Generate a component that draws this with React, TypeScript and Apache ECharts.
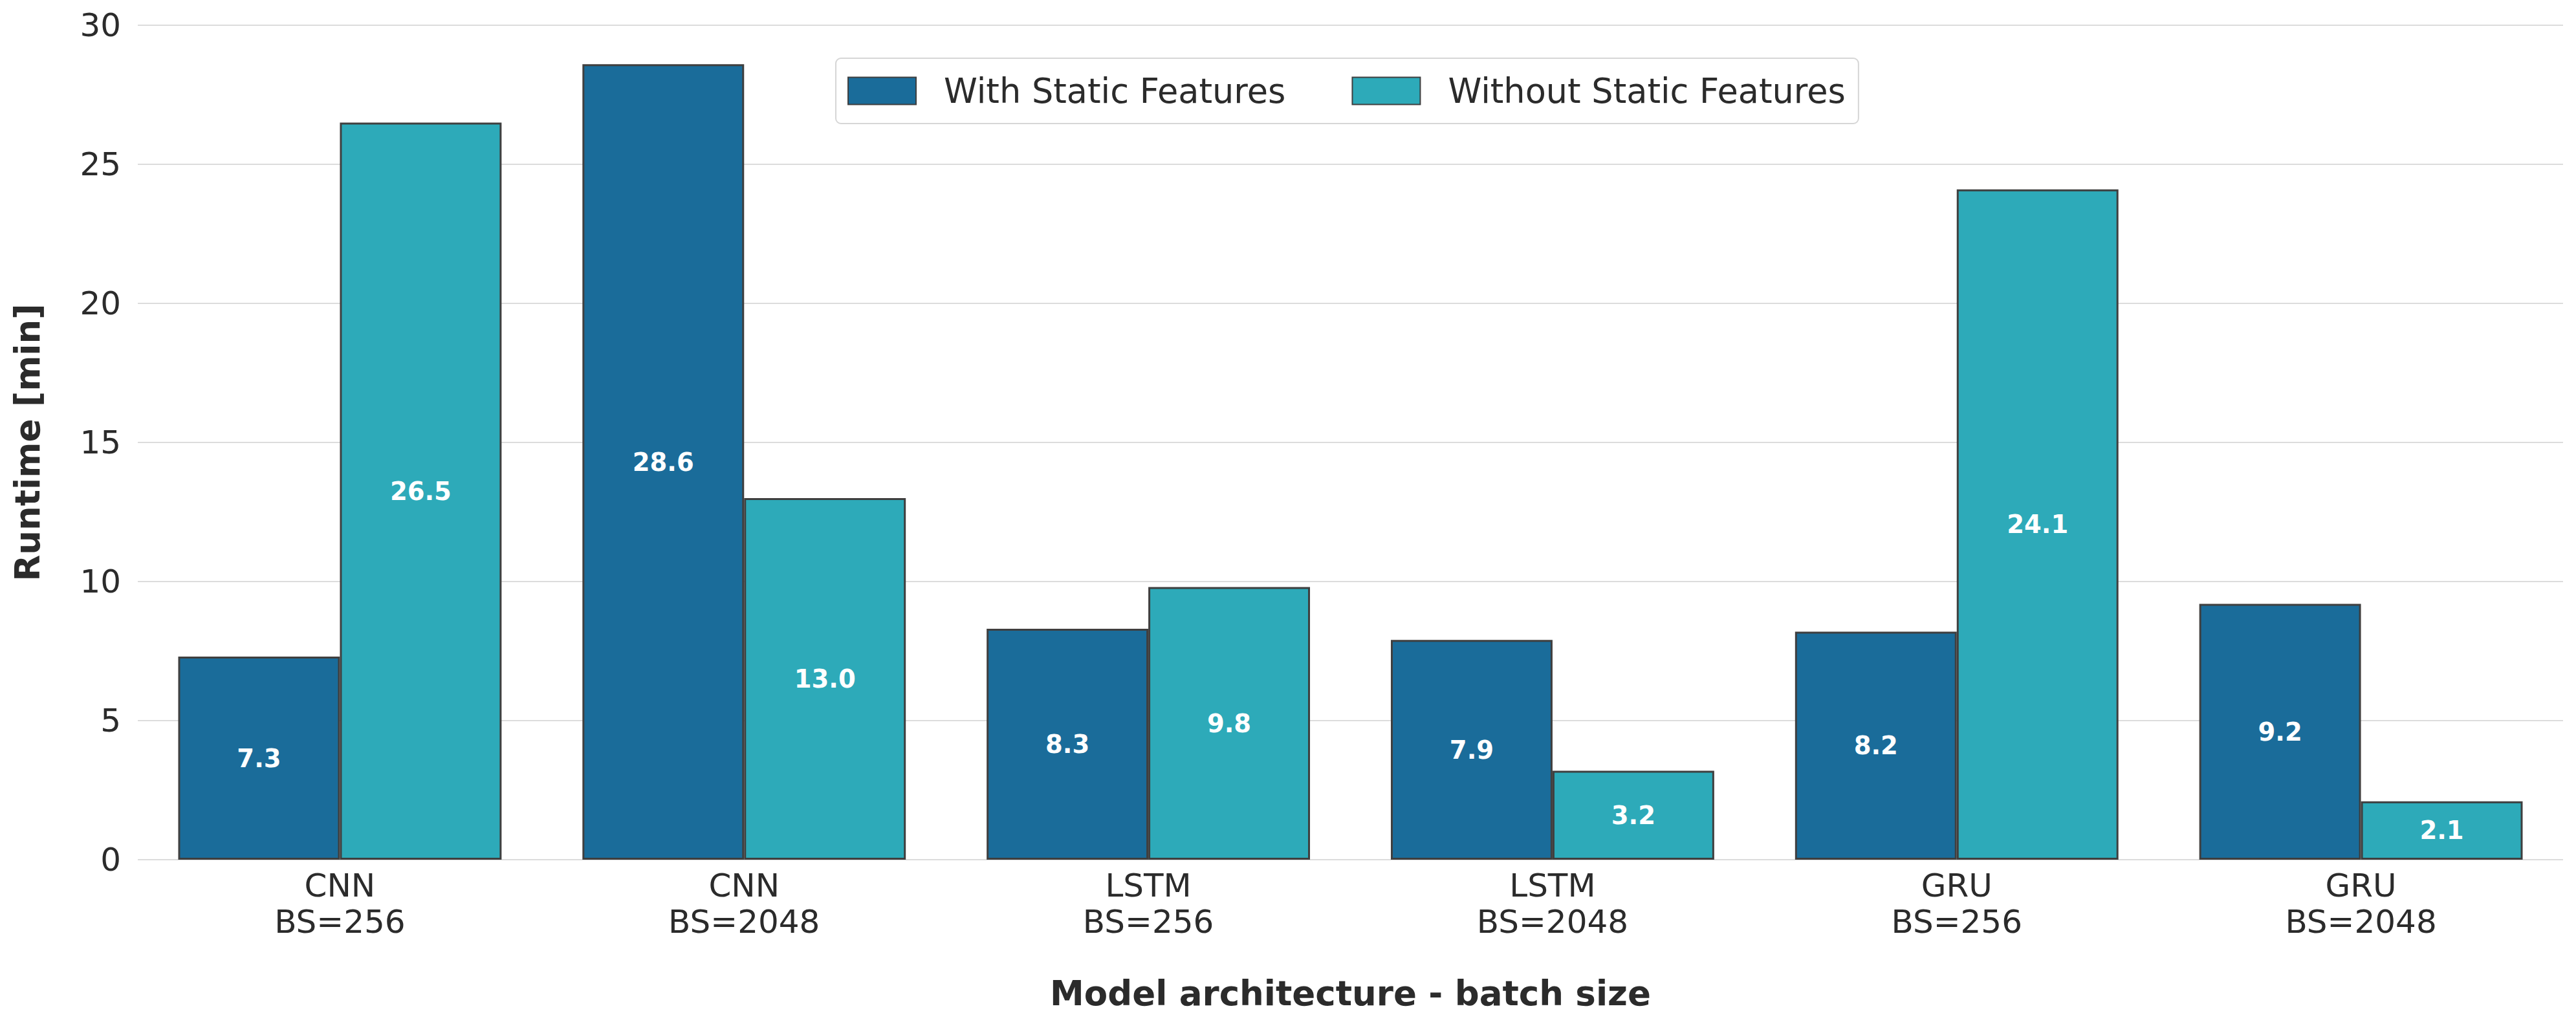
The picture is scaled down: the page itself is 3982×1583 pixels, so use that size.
import React, { useEffect, useRef } from "react";
import * as echarts from "echarts";

const categories = [
  "CNN\nBS=256",
  "CNN\nBS=2048",
  "LSTM\nBS=256",
  "LSTM\nBS=2048",
  "GRU\nBS=256",
  "GRU\nBS=2048",
];
const withStatic = [7.3, 28.6, 8.3, 7.9, 8.2, 9.2];
const withoutStatic = [26.5, 13.0, 9.8, 3.2, 24.1, 2.1];
const seriesNames = ["With Static Features", "Without Static Features"];
const yTicks = { min: 0, max: 30, interval: 5 };

const FONT = "DejaVu Sans";
const TEXT = "#2b2b2b";

export default function App() {
  const ref = useRef<HTMLDivElement>(null);
  useEffect(() => {
    if (!ref.current) return;
    const chart = echarts.init(ref.current, undefined, { renderer: "svg" });
    const label = {
      show: true,
      position: "inside",
      color: "#ffffff",
      fontFamily: FONT,
      fontWeight: "bold",
      fontSize: 38.5,
      formatter: (p: any) => Number(p.value).toFixed(1),
    };
    chart.setOption({
      animation: false,
      textStyle: { fontFamily: FONT },
      grid: { left: 213, right: 20, top: 39, bottom: 254, containLabel: false },
      legend: {
        left: 1292,
        top: 90,
        orient: "horizontal",
        itemWidth: 105,
        itemHeight: 42,
        itemGap: 102,
        padding: [24, 20, 24, 18],
        borderColor: "#d6d6d6",
        borderWidth: 2,
        borderRadius: 8,
        backgroundColor: "#ffffff",
        icon: "rect",
        textStyle: {
          fontFamily: FONT,
          fontSize: 52.5,
          color: TEXT,
          padding: [0, 0, 0, 38],
          lineHeight: 44,
        },
        data: seriesNames,
      },
      xAxis: {
        type: "category",
        data: categories,
        axisLine: { show: false },
        axisTick: { show: false },
        axisLabel: {
          fontFamily: FONT,
          fontSize: 50,
          color: TEXT,
          lineHeight: 56,
          margin: 12,
        },
        name: "Model architecture - batch size",
        nameLocation: "middle",
        nameGap: 180,
        nameTextStyle: {
          fontFamily: FONT,
          fontSize: 53,
          fontWeight: "bold",
          color: TEXT,
        },
      },
      yAxis: {
        type: "value",
        min: yTicks.min,
        max: yTicks.max,
        interval: yTicks.interval,
        axisLine: { show: false },
        axisTick: { show: false },
        axisLabel: {
          fontFamily: FONT,
          fontSize: 50,
          color: TEXT,
          margin: 26,
        },
        splitLine: { show: true, lineStyle: { color: "#dcdcdc", width: 2 } },
        name: "Runtime [min]",
        nameLocation: "middle",
        nameGap: 144,
        nameTextStyle: {
          fontFamily: FONT,
          fontSize: 53,
          fontWeight: "bold",
          color: TEXT,
        },
      },
      series: [
        {
          name: seriesNames[0],
          type: "bar",
          data: withStatic,
          barGap: "0%",
          barCategoryGap: "20%",
          itemStyle: { color: "#1a6c9a", borderColor: "#3f3f3f", borderWidth: 3 },
          label,
        },
        {
          name: seriesNames[1],
          type: "bar",
          data: withoutStatic,
          barGap: "0%",
          barCategoryGap: "20%",
          itemStyle: { color: "#2daab9", borderColor: "#3f3f3f", borderWidth: 3 },
          label,
        },
      ],
    });
    return () => chart.dispose();
  }, []);
  return (
    <div
      ref={ref}
      style={{ position: "fixed", left: 0, top: 0, width: 3982, height: 1583, background: "#fff" }}
    />
  );
}
